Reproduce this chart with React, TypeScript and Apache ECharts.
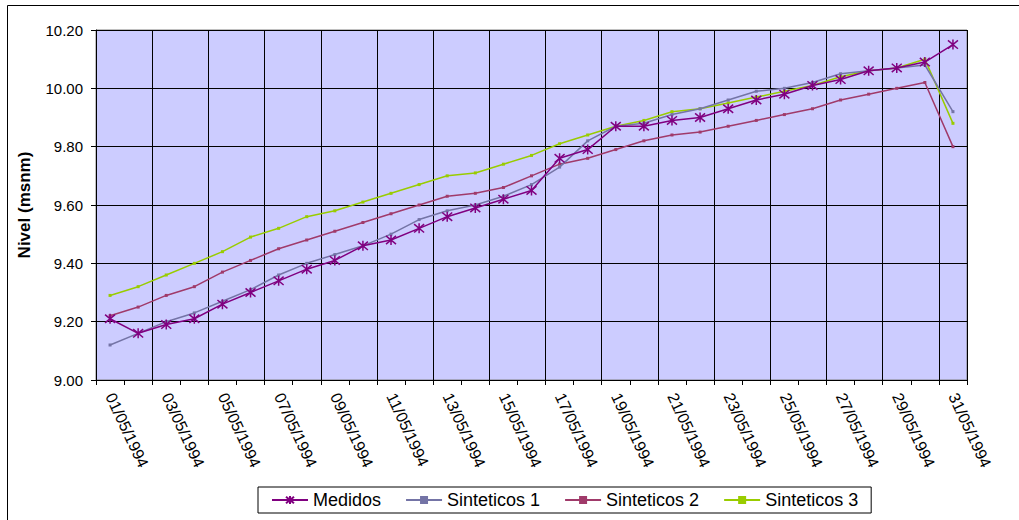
import React, { useEffect, useRef } from "react";
import * as echarts from "echarts";

const categories: string[] = Array.from({ length: 31 }, (_, i) => {
  const d = String(i + 1).padStart(2, "0");
  return `${d}/05/1994`;
});

const medidos = [
  9.21, 9.16, 9.19, 9.21, 9.26, 9.30, 9.34, 9.38, 9.41, 9.46, 9.48,
  9.52, 9.56, 9.59, 9.62, 9.65, 9.76, 9.79, 9.87, 9.87, 9.89, 9.90,
  9.93, 9.96, 9.98, 10.01, 10.03, 10.06, 10.07, 10.09, 10.15,
];
const sinteticos1 = [
  9.12, 9.16, 9.20, 9.23, 9.27, 9.31, 9.36, 9.40, 9.43, 9.46, 9.50,
  9.55, 9.58, 9.60, 9.63, 9.67, 9.73, 9.82, 9.87, 9.88, 9.91, 9.93,
  9.96, 9.99, 10.00, 10.02, 10.05, 10.06, 10.07, 10.08, 9.92,
];
const sinteticos2 = [
  9.22, 9.25, 9.29, 9.32, 9.37, 9.41, 9.45, 9.48, 9.51, 9.54, 9.57,
  9.60, 9.63, 9.64, 9.66, 9.70, 9.74, 9.76, 9.79, 9.82, 9.84, 9.85,
  9.87, 9.89, 9.91, 9.93, 9.96, 9.98, 10.00, 10.02, 9.80,
];
const sinteticos3 = [
  9.29, 9.32, 9.36, 9.40, 9.44, 9.49, 9.52, 9.56, 9.58, 9.61, 9.64,
  9.67, 9.70, 9.71, 9.74, 9.77, 9.81, 9.84, 9.87, 9.89, 9.92, 9.93,
  9.95, 9.97, 9.99, 10.01, 10.04, 10.06, 10.07, 10.10, 9.88,
];

const FONT = "'Liberation Sans', Arial, sans-serif";
const ASTERISK = "path://M0,0L10,10M10,0L0,10M5,-1L5,11";

export default function App() {
  const ref = useRef<HTMLDivElement>(null);
  useEffect(() => {
    if (!ref.current) return;
    const chart = echarts.init(ref.current, undefined, { renderer: "svg" });
    chart.setOption({
      animation: false,
      backgroundColor: "#ffffff",
      textStyle: { fontFamily: FONT },
      graphic: [
        {
          type: "rect",
          shape: { x: 7.5, y: 5.5, width: 1030, height: 530 },
          style: { fill: "none", stroke: "#000", lineWidth: 1 },
          silent: true,
        },
      ],
      grid: {
        left: 96,
        right: 52,
        top: 30,
        bottom: 140,
        show: true,
        backgroundColor: "#CCCCFF",
        borderColor: "#808080",
        borderWidth: 1,
      },
      legend: {
        left: 258,
        top: 487,
        itemWidth: 36,
        itemHeight: 10,
        itemGap: 24,
        padding: [4, 13, 4, 13],
        borderColor: "#000",
        borderWidth: 1,
        textStyle: { fontFamily: FONT, fontSize: 18, color: "#000" },
        data: ["Medidos", "Sinteticos 1", "Sinteticos 2", "Sinteticos 3"],
      },
      xAxis: {
        type: "category",
        data: categories,
        boundaryGap: true,
        axisLine: { lineStyle: { color: "#000", width: 1 } },
        axisTick: { show: true, interval: 0, length: 5, lineStyle: { color: "#000" } },
        axisLabel: {
          interval: 1,
          rotate: -65,
          fontFamily: FONT,
          fontSize: 16,
          color: "#000",
          margin: 14,
        },
        splitLine: { show: true, interval: 1, lineStyle: { color: "#000", width: 1 } },
      },
      yAxis: {
        type: "value",
        min: 9,
        max: 10.2,
        interval: 0.2,
        name: "Nivel (msnm)",
        nameLocation: "middle",
        nameGap: 63,
        nameTextStyle: { fontFamily: FONT, fontSize: 17, fontWeight: "bold", color: "#000" },
        axisLine: { show: true, lineStyle: { color: "#000", width: 1 } },
        axisTick: { show: true, length: 5, lineStyle: { color: "#000" } },
        axisLabel: {
          fontFamily: FONT,
          fontSize: 15,
          color: "#000",
          margin: 13,
          formatter: (v: number) => v.toFixed(2),
        },
        splitLine: { show: true, lineStyle: { color: "#000", width: 1 } },
      },
      series: [
        {
          name: "Medidos",
          type: "line",
          data: medidos,
          symbol: ASTERISK,
          symbolSize: 10,
          lineStyle: { color: "#800080", width: 1.5 },
          itemStyle: { color: "#800080", borderColor: "#800080", borderWidth: 1.5 },
          z: 5,
        },
        {
          name: "Sinteticos 1",
          type: "line",
          data: sinteticos1,
          symbol: "rect",
          symbolSize: 3,
          lineStyle: { color: "#7474A6", width: 1.5 },
          itemStyle: { color: "#7474A6" },
          z: 4,
        },
        {
          name: "Sinteticos 2",
          type: "line",
          data: sinteticos2,
          symbol: "rect",
          symbolSize: 3,
          lineStyle: { color: "#A03A6A", width: 1.5 },
          itemStyle: { color: "#A03A6A" },
          z: 3,
        },
        {
          name: "Sinteticos 3",
          type: "line",
          data: sinteticos3,
          symbol: "rect",
          symbolSize: 3,
          lineStyle: { color: "#99CC00", width: 1.5 },
          itemStyle: { color: "#99CC00" },
          z: 2,
        },
      ],
    });
    return () => chart.dispose();
  }, []);
  return (
    <div
      ref={ref}
      style={{ position: "fixed", left: 0, top: 0, width: 1019, height: 520 }}
    />
  );
}
